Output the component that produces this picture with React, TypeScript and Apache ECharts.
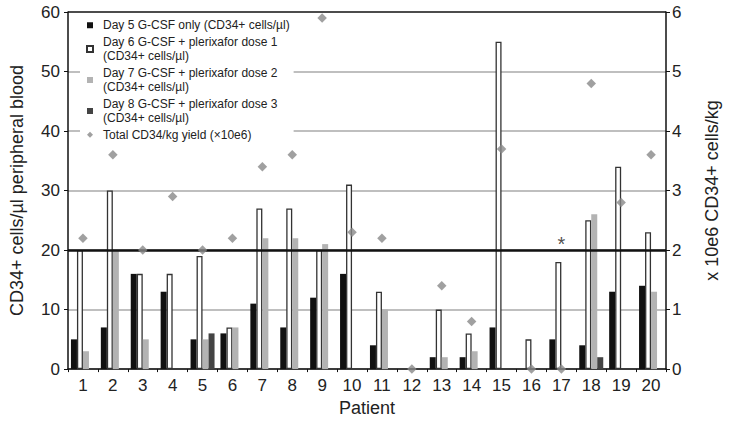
import React, { useEffect, useRef } from "react";
import * as echarts from "echarts";

const patients = ["1","2","3","4","5","6","7","8","9","10","11","12","13","14","15","16","17","18","19","20"];
const day5 = [5, 7, 16, 13, 5, 6, 11, 7, 12, 16, 4, null, 2, 2, 7, null, 5, 4, 13, 14];
const day6 = [20, 30, 16, 16, 19, 7, 27, 27, 20, 31, 13, null, 10, 6, 55, 5, 18, 25, 34, 23];
const day7 = [3, 20, 5, null, 5, 7, 22, 22, 21, null, 10, null, 2, 3, null, null, null, 26, null, 13];
const day8 = [null, null, null, null, 6, null, null, null, null, null, null, null, null, null, null, null, null, 2, null, null];
const yieldTotal = [2.2, 3.6, 2.0, 2.9, 2.0, 2.2, 3.4, 3.6, 5.9, 2.3, 2.2, 0, 1.4, 0.8, 3.7, 0, 0, 4.8, 2.8, 3.6];
const asteriskPoint = [[16, 2.1]];
const leftTicks = { min: 0, max: 60, interval: 10 };
const rightTicks = { min: 0, max: 6, interval: 1 };

const names = [
  "Day 5 G-CSF only (CD34+ cells/µl)",
  "Day 6 G-CSF + plerixafor dose 1\n(CD34+ cells/µl)",
  "Day 7 G-CSF + plerixafor dose 2\n(CD34+ cells/µl)",
  "Day 8 G-CSF + plerixafor dose 3\n(CD34+ cells/µl)",
  "Total CD34/kg yield (×10e6)",
];

const FONT = "'Liberation Sans', Arial, Helvetica, sans-serif";
const TXT = "#222";

export default function App() {
  const ref = useRef<HTMLDivElement>(null);
  useEffect(() => {
    if (!ref.current) return;
    const chart = echarts.init(ref.current, null, { renderer: "svg" });
    const barCommon = { type: "bar", barWidth: 6, barGap: "0%", yAxisIndex: 0 };
    chart.setOption({
      animation: false,
      backgroundColor: "#fff",
      textStyle: { fontFamily: FONT, color: TXT },
      grid: { left: 64, right: 57, top: 12, bottom: 49, containLabel: false },
      legend: {
        orient: "vertical",
        left: 80,
        top: 16,
        backgroundColor: "#fff",
        padding: [2, 4, 2, 6],
        itemWidth: 6,
        itemHeight: 6,
        itemGap: 2,
        textStyle: { fontSize: 12, lineHeight: 14.5, color: TXT, fontFamily: FONT, padding: [0, 0, 0, 5] },
        data: [
          { name: names[0], icon: "rect" },
          { name: names[1], icon: "rect" },
          { name: names[2], icon: "rect" },
          { name: names[3], icon: "rect" },
          { name: names[4], icon: "diamond" },
        ],
      },
      xAxis: {
        type: "category",
        data: patients,
        name: "Patient",
        nameLocation: "middle",
        nameGap: 29,
        nameTextStyle: { fontSize: 18, color: TXT, fontFamily: FONT },
        axisLine: { lineStyle: { color: "#111", width: 1.5 } },
        axisTick: { show: true, interval: 0, alignWithLabel: false, length: 3, lineStyle: { color: "#111" } },
        axisLabel: { fontSize: 17, color: TXT, margin: 8, interval: 0, fontFamily: FONT },
        splitLine: { show: false },
      },
      yAxis: [
        {
          type: "value",
          ...leftTicks,
          name: "CD34+ cells/µl peripheral blood",
          nameLocation: "middle",
          nameGap: 42,
          nameTextStyle: { fontSize: 18, color: TXT, fontFamily: FONT },
          axisLine: { show: true, lineStyle: { color: "#111", width: 1.5 } },
          axisTick: { show: true, length: 4, lineStyle: { color: "#111" } },
          axisLabel: { fontSize: 17, color: TXT, margin: 8, fontFamily: FONT },
          splitLine: {
            show: true,
            lineStyle: { color: ["#aaa", "#aaa", "#aaa", "#aaa", "#aaa", "#aaa", "#111"], width: 1.5 },
          },
        },
        {
          type: "value",
          ...rightTicks,
          name: "x 10e6 CD34+ cells/kg",
          nameLocation: "middle",
          nameGap: 37,
          nameTextStyle: { fontSize: 18, color: TXT, fontFamily: FONT },
          axisLine: { show: true, lineStyle: { color: "#111", width: 1.5 } },
          axisTick: { show: true, length: 4, lineStyle: { color: "#111" } },
          axisLabel: { fontSize: 17, color: TXT, margin: 6, fontFamily: FONT },
          splitLine: { show: false },
        },
      ],
      series: [
        {
          ...barCommon,
          name: names[0],
          data: day5,
          itemStyle: { color: "#111" },
          markLine: {
            silent: true,
            symbol: "none",
            label: { show: false },
            lineStyle: { color: "#111", width: 2.5, type: "solid" },
            data: [{ yAxis: 20 }],
            z: 5,
          },
        },
        {
          ...barCommon,
          name: names[1],
          data: day6,
          itemStyle: { color: "#fff", borderColor: "#333", borderWidth: 1.3 },
        },
        {
          ...barCommon,
          name: names[2],
          data: day7,
          itemStyle: { color: "#b3b3b3" },
        },
        {
          ...barCommon,
          name: names[3],
          data: day8,
          itemStyle: { color: "#444" },
        },
        {
          type: "scatter",
          name: names[4],
          yAxisIndex: 1,
          data: yieldTotal,
          symbol: "diamond",
          symbolSize: 9.5,
          itemStyle: { color: "#888" },
          z: 6,
        },
        {
          type: "scatter",
          name: "asterisk",
          yAxisIndex: 1,
          data: asteriskPoint,
          symbolSize: 0,
          label: { show: true, formatter: "*", position: "inside", fontSize: 20, color: TXT, fontFamily: FONT },
          z: 6,
        },
      ],
    });
    return () => chart.dispose();
  }, []);
  return <div ref={ref} style={{ position: "fixed", left: 0, top: 0, width: 729, height: 422 }} />;
}
